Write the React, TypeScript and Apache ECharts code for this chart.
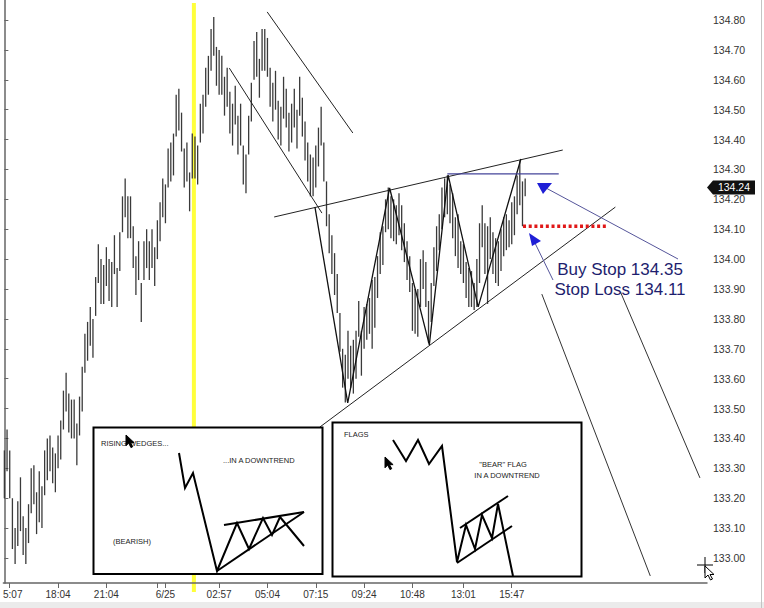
import React, { useEffect, useRef } from "react";
import * as echarts from "echarts";

// bar highs / lows (one bar per index)
const highs = [
  133.36, 133.43, 133.36, 133.20, 133.10, 133.19, 133.27, 133.14, 133.10, 133.18,
  133.30, 133.31, 133.22, 133.29, 133.24, 133.36, 133.40, 133.41, 133.37, 133.35,
  133.41, 133.46, 133.56, 133.62, 133.55, 133.53, 133.53, 133.45, 133.54, 133.64,
  133.75, 133.79, 133.84, 133.80, 133.94, 134.05, 134.00, 133.98, 134.04, 134.00,
  133.99, 134.08, 133.97, 134.09, 134.21, 134.27, 134.21, 134.21, 134.11, 134.01,
  134.06, 133.92, 134.06, 134.10, 134.06, 134.10, 134.04, 134.13, 134.19, 134.27,
  134.25, 134.37, 134.39, 134.42, 134.55, 134.57, 134.49, 134.37, 134.39, 134.29,
  134.42, 134.41, 134.38, 134.52, 134.55, 134.64, 134.68, 134.77, 134.81, 134.71,
  134.70, 134.68, 134.61, 134.64, 134.56, 134.52, 134.58, 134.48, 134.52, 134.38,
  134.35, 134.48, 134.59, 134.73, 134.76, 134.67, 134.77, 134.77, 134.74, 134.64,
  134.59, 134.63, 134.53, 134.51, 134.61, 134.57, 134.49, 134.52, 134.57, 134.50,
  134.61, 134.54, 134.46, 134.39, 134.35, 134.34, 134.38, 134.44, 134.51, 134.39,
  134.26, 134.15, 134.08, 134.02, 133.95, 133.82, 133.70, 133.68, 133.76, 133.71,
  133.73, 133.76, 133.86, 133.76, 133.84, 133.85, 133.87, 133.93, 133.94, 134.01,
  134.09, 134.11, 134.20, 134.24, 134.21, 134.20, 134.18, 134.22, 134.18, 134.12,
  134.06, 134.01, 133.92, 133.90, 133.90, 134.00, 134.03, 133.99, 133.86, 133.92,
  134.04, 134.11, 134.15, 134.24, 134.27, 134.28, 134.25, 134.22, 134.14, 134.15,
  134.06, 134.05, 133.99, 133.97, 133.96, 133.92, 134.00, 134.12, 134.18, 134.12,
  134.11, 134.14, 134.09, 134.07, 134.06, 134.10, 134.14, 134.15, 134.13, 134.19,
  134.21, 134.28, 134.33, 134.26, 134.27,
];
const lows = [
  133.20, 133.29, 133.20, 133.03, 132.98, 133.04, 133.09, 133.01, 132.98, 133.05,
  133.15, 133.18, 133.08, 133.12, 133.10, 133.21, 133.26, 133.29, 133.25, 133.22,
  133.30, 133.33, 133.43, 133.49, 133.42, 133.40, 133.40, 133.31, 133.41, 133.49,
  133.62, 133.66, 133.71, 133.67, 133.81, 133.92, 133.85, 133.85, 133.91, 133.86,
  133.84, 133.95, 133.84, 133.96, 134.09, 134.14, 134.07, 134.07, 133.97, 133.88,
  133.93, 133.79, 133.93, 133.97, 133.93, 133.97, 133.91, 134.00, 134.06, 134.14,
  134.12, 134.24, 134.26, 134.28, 134.41, 134.43, 134.36, 134.24, 134.26, 134.16,
  134.27, 134.27, 134.25, 134.39, 134.42, 134.51, 134.55, 134.63, 134.68, 134.58,
  134.55, 134.55, 134.48, 134.51, 134.42, 134.38, 134.45, 134.35, 134.38, 134.25,
  134.22, 134.35, 134.46, 134.60, 134.61, 134.54, 134.63, 134.63, 134.61, 134.51,
  134.46, 134.50, 134.40, 134.38, 134.47, 134.44, 134.36, 134.39, 134.44, 134.37,
  134.48, 134.41, 134.33, 134.26, 134.21, 134.21, 134.24, 134.31, 134.38, 134.26,
  134.11, 134.02, 133.95, 133.88, 133.82, 133.69, 133.57, 133.52, 133.60, 133.57,
  133.55, 133.60, 133.74, 133.61, 133.70, 133.73, 133.75, 133.70, 133.77, 133.87,
  133.95, 133.98, 134.09, 134.10, 134.07, 134.06, 134.05, 134.08, 134.03, 133.99,
  133.93, 133.89, 133.76, 133.75, 133.74, 133.84, 133.90, 133.84, 133.72, 133.79,
  133.91, 133.96, 134.03, 134.10, 134.14, 134.15, 134.12, 134.07, 134.01, 133.97,
  133.95, 133.92, 133.87, 133.84, 133.84, 133.83, 133.84, 133.92, 134.04, 133.95,
  133.85, 134.00, 133.95, 133.92, 133.91, 133.96, 134.01, 134.03, 134.04, 134.05,
  134.08, 134.15, 134.18, 134.11, 134.21,
];

// x axis: ticks placed at bar positions
const xTickBars = [2, 20, 38, 57, 60, 80, 98, 116, 134, 152, 171, 189];
const xTickLabels = ["5:07", "18:04", "21:04", "", "6/25", "02:57", "05:04", "07:15", "09:24", "10:48", "13:01", "15:47"];
const yTicks = [133.0, 133.1, 133.2, 133.3, 133.4, 133.5, 133.6, 133.7, 133.8, 133.9, 134.0, 134.1, 134.2, 134.3, 134.4, 134.5, 134.6, 134.7, 134.8];
const lastPrice = 134.24;
const sessionBreakBar = 70.6;

// drawn lines: [bar position, price]
const channelUpper = [[97.9, 134.827], [129.8, 134.422]];
const channelLower = [[83.8, 134.639], [118.3, 134.154]];
const wedgeUpper = [[100.5, 134.141], [208.0, 134.365]];
const wedgeLower = [[117.5, 133.438], [227.6, 134.174]];
const zigzag = [[115.7, 134.174], [127.9, 133.519], [143.5, 134.238], [158.3, 133.713], [165.3, 134.281], [176.5, 133.84], [192.4, 134.335]];
const buyStopLine = [[165.0, 134.285], [206.5, 134.285]];
const stopLossLine = [[193.2, 134.11], [224.7, 134.11]];
const diagonalA = [[200.2, 133.883], [240.6, 132.94]];
const diagonalB = [[229.5, 133.89], [259.1, 133.268]];

const FONT = "'Liberation Sans', Arial, sans-serif";

function lineSeries(data: number[][], color: string, width: number, type: any = "solid") {
  return {
    type: "line",
    data,
    symbol: "none",
    silent: true,
    z: 3,
    lineStyle: { color, width, type, cap: "butt" },
  };
}

function cursor(x: number, y: number, fill: string, s = 1) {
  const pts = [[0, 0], [0, 12], [3, 9], [5.5, 14], [7.5, 13], [5, 8.5], [9, 8.5]].map(([a, b]) => [x + a * s, y + b * s]);
  return { type: "polygon", z: 120, shape: { points: pts }, style: { fill, stroke: "#000", lineWidth: 1 } };
}

export default function App() {
  const ref = useRef<HTMLDivElement>(null);
  useEffect(() => {
    if (!ref.current) return;
    const chart = echarts.init(ref.current, undefined, { renderer: "svg" });
    const bars = highs.map((h, i) => [i, h, lows[i]]);
    const labelFor = (v: number) => {
      const k = xTickBars.indexOf(v);
      if (k < 0) return "";
      if (k === 0) return "{first|" + xTickLabels[0] + "}";
      return xTickLabels[k];
    };
    chart.setOption({
      animation: false,
      backgroundColor: "#ffffff",
      grid: { left: 0, right: 57, top: 0, bottom: 25, containLabel: false },
      xAxis: {
        type: "value",
        min: -0.3707,
        max: 261.73,
        splitLine: { show: false },
        axisLine: { show: true, lineStyle: { color: "#666", width: 1.5 } },
        axisTick: { show: true, customValues: xTickBars, length: 5, lineStyle: { color: "#666" } },
        axisLabel: {
          customValues: xTickBars,
          formatter: labelFor,
          color: "#333",
          fontSize: 10,
          fontFamily: FONT,
          margin: 6,
          rich: { first: { padding: [0, 0, 0, 6], fontSize: 10, color: "#333", fontFamily: FONT } },
        },
      },
      yAxis: {
        type: "value",
        position: "right",
        min: 132.9164,
        max: 134.8669,
        splitLine: { show: false },
        axisLine: { show: true, lineStyle: { color: "#666", width: 1.5 } },
        axisTick: { show: true, customValues: yTicks, length: 4, inside: false, lineStyle: { color: "#666" } },
        axisLabel: {
          customValues: yTicks,
          formatter: (v: number) => v.toFixed(2),
          color: "#333",
          fontSize: 10.5,
          fontFamily: FONT,
          margin: 6,
        },
      },
      series: [
        {
          type: "custom",
          data: bars,
          z: 2,
          silent: true,
          renderItem: (params: any, api: any) => {
            const x = api.value(0);
            const p1 = api.coord([x, api.value(1)]);
            const p2 = api.coord([x, api.value(2)]);
            return {
              type: "line",
              shape: { x1: p1[0], y1: p1[1], x2: p2[0], y2: p2[1] },
              style: { stroke: "#3a3a3a", lineWidth: 1.3 },
            };
          },
        },
        lineSeries(channelUpper, "#222", 1),
        lineSeries(channelLower, "#222", 1),
        lineSeries(wedgeUpper, "#222", 1),
        lineSeries(wedgeLower, "#222", 1),
        lineSeries(zigzag, "#111", 1.3),
        lineSeries(buyStopLine, "#45459a", 1.2),
        lineSeries(stopLossLine, "#e01818", 3.5, [3, 2.7]),
        lineSeries(diagonalA, "#333", 1),
        lineSeries(diagonalB, "#333", 1),
      ],
    });

    const xb = chart.convertToPixel({ xAxisIndex: 0 }, sessionBreakBar) as number;
    const yp = chart.convertToPixel({ yAxisIndex: 0 }, lastPrice) as number;
    const txt = (text: string, x: number, y: number, size: number, align = "left", fill = "#222") => ({
      type: "text",
      z: 110,
      x,
      y,
      style: { text, fill, fontSize: size, fontFamily: FONT, align, verticalAlign: "middle" },
    });
    const poly = (points: number[][], stroke = "#000", w = 2) => ({
      type: "polyline",
      z: 110,
      shape: { points },
      style: { stroke, lineWidth: w, fill: null },
    });

    chart.setOption({
      graphic: [
        { type: "rect", z: -1, shape: { x: xb - 2, y: 3, width: 4, height: 589 }, style: { fill: "#ffff3a" } },
        // inset 1
        { type: "rect", z: 100, shape: { x: 93.5, y: 427.5, width: 229, height: 146.5 }, style: { fill: "#fff", stroke: "#000", lineWidth: 2 } },
        txt("RISING WEDGES...", 101, 443, 7.5),
        txt("...IN A DOWNTREND", 223, 460, 7.5),
        txt("(BEARISH)", 113, 541, 7.5),
        poly([[179, 453], [185, 488], [193, 473], [217, 571], [237, 523], [249, 549], [263, 518], [272, 535], [280, 517], [304, 546]]),
        poly([[224, 525], [304, 512]]),
        poly([[217, 571], [304, 512]]),
        cursor(126, 435, "#000", 0.9),
        // inset 2
        { type: "rect", z: 100, shape: { x: 332.5, y: 422.5, width: 249, height: 154 }, style: { fill: "#fff", stroke: "#000", lineWidth: 2 } },
        txt("FLAGS", 344, 434, 7.5),
        txt("\"BEAR\" FLAG", 503, 464, 7.5, "center"),
        txt("IN A DOWNTREND", 507, 475, 7.5, "center"),
        poly([[393, 440], [406, 461], [418, 440], [429, 464], [442, 446], [457, 562], [466, 525], [475, 549], [482, 515], [492, 538], [498, 504], [513, 576]]),
        poly([[460, 528], [508, 496]]),
        poly([[457, 563], [512, 526]]),
        cursor(385, 457, "#000", 0.9),
        // annotations
        { type: "line", z: 50, shape: { x1: 678, y1: 259, x2: 546, y2: 188 }, style: { stroke: "#55559a", lineWidth: 1 } },
        { type: "polygon", z: 51, shape: { points: [[537, 183], [552, 183], [543, 194]] }, style: { fill: "#1f1fd6" } },
        { type: "line", z: 50, shape: { x1: 553, y1: 280, x2: 533, y2: 239 }, style: { stroke: "#55559a", lineWidth: 1 } },
        { type: "polygon", z: 51, shape: { points: [[529, 233], [541, 241], [532, 246]] }, style: { fill: "#1f1fd6" } },
        txt("Buy Stop 134.35", 620, 269, 17, "center", "#1e1e6e"),
        txt("Stop Loss 134.11", 620, 289, 17, "center", "#1e1e6e"),
        // last price tag
        { type: "polygon", z: 60, shape: { points: [[707, yp], [713, yp - 7], [755, yp - 7], [755, yp + 7], [713, yp + 7]] }, style: { fill: "#111" } },
        txt(lastPrice.toFixed(2), 734, yp, 10.5, "center", "#fff"),
        // cursor bottom right
        { type: "line", z: 120, shape: { x1: 697, y1: 565, x2: 713, y2: 565 }, style: { stroke: "#000", lineWidth: 1 } },
        { type: "line", z: 120, shape: { x1: 705, y1: 557, x2: 705, y2: 573 }, style: { stroke: "#000", lineWidth: 1 } },
        cursor(705, 566, "#fff", 1),
        // frame
        { type: "rect", z: 90, shape: { x: 0, y: 602, width: 764, height: 6 }, style: { fill: "#ebebeb" } },
        { type: "line", z: 90, shape: { x1: 761.5, y1: 0, x2: 761.5, y2: 608 }, style: { stroke: "#c4c4c4", lineWidth: 1 } },
      ],
    });

    return () => chart.dispose();
  }, []);
  return <div ref={ref} style={{ position: "fixed", left: 0, top: 0, width: 764, height: 608, background: "#fff" }} />;
}
